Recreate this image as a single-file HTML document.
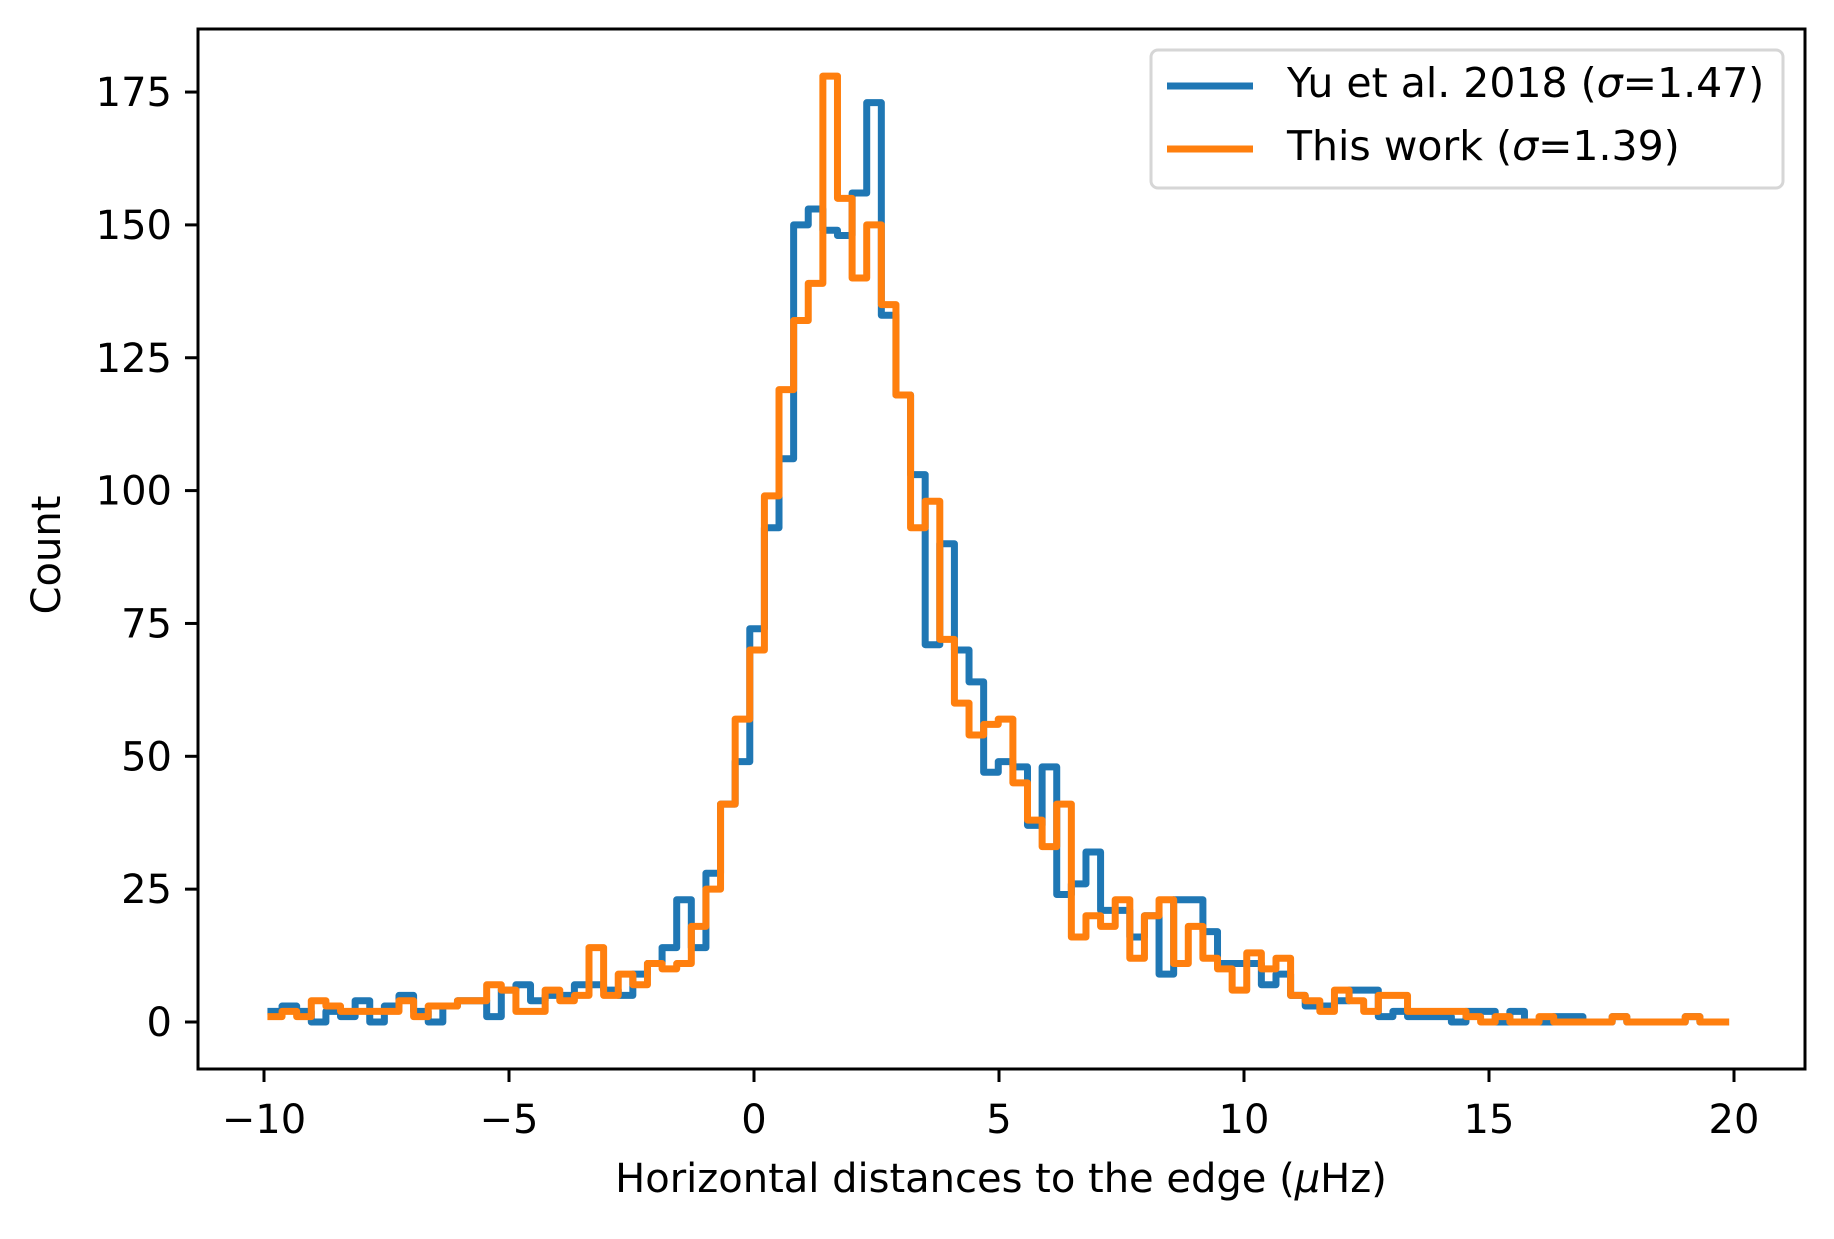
<!DOCTYPE html>
<html><head><meta charset="utf-8"><style>
body{margin:0;background:#fff}
svg text{font-family:"DejaVu Sans","Liberation Sans",sans-serif;fill:#000}
</style></head><body>
<svg id="chart" width="1834" height="1234" xmlns="http://www.w3.org/2000/svg">
<rect x="0" y="0" width="1834" height="1234" fill="#fff"/>
<g id="plot"></g>
<g id="axes"></g>
<text x="49" y="555" font-size="40" text-anchor="middle" transform="rotate(-90 49 555)" dominant-baseline="middle">Count</text>
<text x="1001" y="1192" font-size="40" text-anchor="middle">Horizontal distances to the edge (<tspan font-style="italic">μ</tspan>Hz)</text>
<g>
<rect x="1151" y="50" width="632" height="138" rx="7" fill="#fff" fill-opacity="0.8" stroke="#d6d6d6" stroke-width="3"/>
<line x1="1167" y1="86" x2="1253" y2="86" stroke="#1f77b4" stroke-width="7"/>
<text x="1287" y="86" font-size="41" dominant-baseline="middle">Yu et al. 2018 (<tspan font-style="italic">σ</tspan>=1.47)</text>
<line x1="1167" y1="149" x2="1253" y2="149" stroke="#ff7f0e" stroke-width="7"/>
<text x="1287" y="149" font-size="41" dominant-baseline="middle">This work (<tspan font-style="italic">σ</tspan>=1.39)</text>
</g>
</svg>
<script>
const binStart = -9.93;
const binWidth = 0.2983;
const yuCounts = [2,3,2,0,2,1,4,0,3,5,2,0,3,4,4,1,6,7,4,5,5,7,7,6,5,9,11,14,23,14,28,41,49,74,93,106,150,153,149,148,156,173,133,118,103,71,90,70,64,47,49,48,37,48,24,26,32,21,21,16,20,9,23,23,17,11,11,11,7,9,5,3,3,4,6,6,1,2,1,1,1,0,2,2,0,2,0,0,1,1,0,0,1,0,0,0,0,1,0,0];
const thisCounts = [1,2,1,4,3,2,2,2,2,4,1,3,3,4,4,7,6,2,2,6,4,5,14,5,9,7,11,10,11,18,25,41,57,70,99,119,132,139,178,155,140,150,135,118,93,98,72,60,54,56,57,45,38,33,41,16,20,18,23,12,20,23,11,18,12,10,6,13,10,12,5,4,2,6,4,2,5,5,2,2,2,2,1,0,1,0,0,1,0,0,0,0,1,0,0,0,0,1,0,0];
const xTicks = [-10,-5,0,5,10,15,20];
const xTickLabels = ["\u221210","\u22125","0","5","10","15","20"];
const yTicks = [0,25,50,75,100,125,150,175];
const yTickLabels = ["0","25","50","75","100","125","150","175"];

const L=198,R=1805,T=29,B=1069;
function xs(v){return 264+49*(v+10);}
function ys(c){return 1022-5.314*c;}
const NS="http://www.w3.org/2000/svg";
const plot=document.getElementById('plot'), axes=document.getElementById('axes');
function stepPath(counts){
  let d="M"+xs(binStart)+","+ys(counts[0]);
  for(let i=0;i<counts.length;i++){
    const x0=xs(binStart+i*binWidth), x1=xs(binStart+(i+1)*binWidth);
    d+=" L"+x0+","+ys(counts[i])+" L"+x1+","+ys(counts[i]);
  }
  return d;
}
const p1=document.createElementNS(NS,'path');
p1.setAttribute('d',stepPath(yuCounts));p1.setAttribute('fill','none');p1.setAttribute('stroke','#1f77b4');p1.setAttribute('stroke-width','7');p1.setAttribute('stroke-linejoin','round');


plot.appendChild(p1);
const p2=document.createElementNS(NS,'path');
p2.setAttribute('d',stepPath(thisCounts));p2.setAttribute('fill','none');p2.setAttribute('stroke','#ff7f0e');p2.setAttribute('stroke-width','7');p2.setAttribute('stroke-linejoin','round');


plot.appendChild(p2);
const frame=document.createElementNS(NS,'rect');
frame.setAttribute('x',L);frame.setAttribute('y',T);frame.setAttribute('width',R-L);frame.setAttribute('height',B-T);frame.setAttribute('fill','none');frame.setAttribute('stroke','#000');frame.setAttribute('stroke-width','3');


axes.appendChild(frame);
xTicks.forEach((v,i)=>{
  const l=document.createElementNS(NS,'line');
  l.setAttribute('x1',xs(v));l.setAttribute('x2',xs(v));l.setAttribute('y1',B);l.setAttribute('y2',B+13);l.setAttribute('stroke','#000');l.setAttribute('stroke-width','3');
  
  
  axes.appendChild(l);
  const t=document.createElementNS(NS,'text');
  t.setAttribute('x',xs(v));t.setAttribute('y',B+64);t.setAttribute('font-size','40');t.setAttribute('text-anchor','middle');
  t.textContent=xTickLabels[i];
  
  
  axes.appendChild(t);
});
yTicks.forEach((v,i)=>{
  const l=document.createElementNS(NS,'line');
  l.setAttribute('x1',L-13);l.setAttribute('x2',L);l.setAttribute('y1',ys(v));l.setAttribute('y2',ys(v));l.setAttribute('stroke','#000');l.setAttribute('stroke-width','3');
  
  
  axes.appendChild(l);
  const t=document.createElementNS(NS,'text');
  t.setAttribute('x',L-26);t.setAttribute('y',ys(v)+14);t.setAttribute('font-size','40');t.setAttribute('text-anchor','end');
  t.textContent=yTickLabels[i];
  
  
  axes.appendChild(t);
});
</script>
</body></html>
